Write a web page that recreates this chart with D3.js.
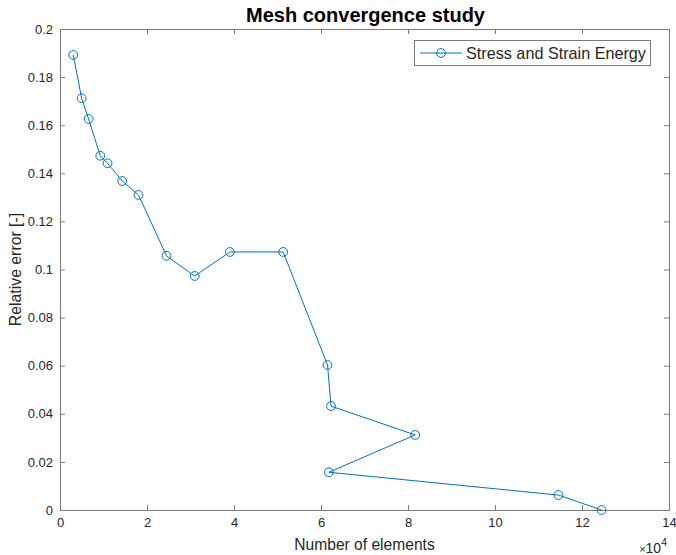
<!DOCTYPE html>
<html><head><meta charset="utf-8">
<script src="https://cdn.jsdelivr.net/npm/d3@7"></script>
<style>body{margin:0;background:#fff}svg{display:block}text{font-family:"Liberation Sans",Arial,sans-serif;fill:#262626}</style>
</head><body><svg id="c" width="676" height="555"></svg>
<script>
const elements = [0.305, 0.497, 0.658, 0.925, 1.093, 1.43, 1.805, 2.447, 3.096, 3.906, 5.13, 6.15, 6.23, 8.165, 6.18, 11.46, 12.45];
const relError = [0.1892, 0.1712, 0.1626, 0.1473, 0.1442, 0.1368, 0.131, 0.1057, 0.0973, 0.1073, 0.1073, 0.0603, 0.0432, 0.0312, 0.0157, 0.0062, 0.0];
const xTicks = [0, 2, 4, 6, 8, 10, 12, 14];
const yTicks = [0, 0.02, 0.04, 0.06, 0.08, 0.1, 0.12, 0.14, 0.16, 0.18, 0.2];
const seriesName = "Stress and Strain Energy";

const svg = d3.select("#c");
const L = 60, R = 669, T = 29, B = 510;
const x = d3.scaleLinear().domain([0, 14]).range([L, R]);
const y = d3.scaleLinear().domain([0, 0.2]).range([B, T]);
const axisCol = "#7a7a7a", col = "#0072BD";
const fmt = d => d === 0 ? "0" : String(+d.toFixed(2));

function styleAxis(g, labels) {
  g.select(".domain").attr("stroke", axisCol);
  g.selectAll(".tick line").attr("stroke", axisCol);
  g.selectAll(".tick text").attr("font-size", 13).attr("fill", "#262626");
  if (!labels) g.selectAll(".tick text").remove();
}
svg.append("g").attr("transform", `translate(0,${B})`)
  .call(d3.axisBottom(x).tickValues(xTicks).tickFormat(d3.format("d")).tickSizeInner(-5).tickSizeOuter(0).tickPadding(8))
  .call(g => styleAxis(g, true));
svg.append("g").attr("transform", `translate(0,${T})`)
  .call(d3.axisTop(x).tickValues(xTicks).tickSizeInner(-5).tickSizeOuter(0))
  .call(g => styleAxis(g, false));
svg.append("g").attr("transform", `translate(${L},0)`)
  .call(d3.axisLeft(y).tickValues(yTicks).tickFormat(fmt).tickSizeInner(-5).tickSizeOuter(0).tickPadding(7))
  .call(g => styleAxis(g, true));
svg.append("g").attr("transform", `translate(${R},0)`)
  .call(d3.axisRight(y).tickValues(yTicks).tickSizeInner(-5).tickSizeOuter(0))
  .call(g => styleAxis(g, false));

const pts = elements.map((e, i) => [e, relError[i]]);
svg.append("path").datum(pts)
  .attr("fill", "none").attr("stroke", col).attr("stroke-width", 1)
  .attr("d", d3.line().x(d => x(d[0])).y(d => y(d[1])));
svg.append("g").selectAll("circle").data(pts).join("circle")
  .attr("cx", d => x(d[0])).attr("cy", d => y(d[1])).attr("r", 4.4)
  .attr("fill", "none").attr("stroke", col).attr("stroke-width", 1);

// title & labels
svg.append("text").attr("x", (L + R) / 2 + 1).attr("y", 22).attr("text-anchor", "middle")
  .attr("font-size", 20).attr("font-weight", "bold").style("fill", "#000").text("Mesh convergence study");
svg.append("text").attr("x", (L + R) / 2).attr("y", 550).attr("text-anchor", "middle")
  .attr("font-size", 15.6).text("Number of elements");
svg.append("text").attr("transform", `translate(21,${(T + B) / 2}) rotate(-90)`).attr("text-anchor", "middle")
  .attr("font-size", 15.8).text("Relative error [-]");
const ex = svg.append("text").attr("x", 667).attr("y", 553).attr("font-size", 14).attr("text-anchor", "end");
ex.append("tspan").attr("font-size", 11).text("\u00d7");
ex.append("tspan").text("10");
ex.append("tspan").attr("dy", -7).attr("font-size", 10.5).text("4");

// legend
const lg = svg.append("g");
lg.append("rect").attr("x", 414.5).attr("y", 40.5).attr("width", 236).attr("height", 25)
  .attr("fill", "#fff").attr("stroke", axisCol);
lg.append("line").attr("x1", 420).attr("x2", 462).attr("y1", 53).attr("y2", 53).attr("stroke", col);
lg.append("circle").attr("cx", 441).attr("cy", 53).attr("r", 4.4).attr("fill", "none").attr("stroke", col);
lg.append("text").attr("x", 466).attr("y", 59).attr("font-size", 16.2).text(seriesName);
</script></body></html>
